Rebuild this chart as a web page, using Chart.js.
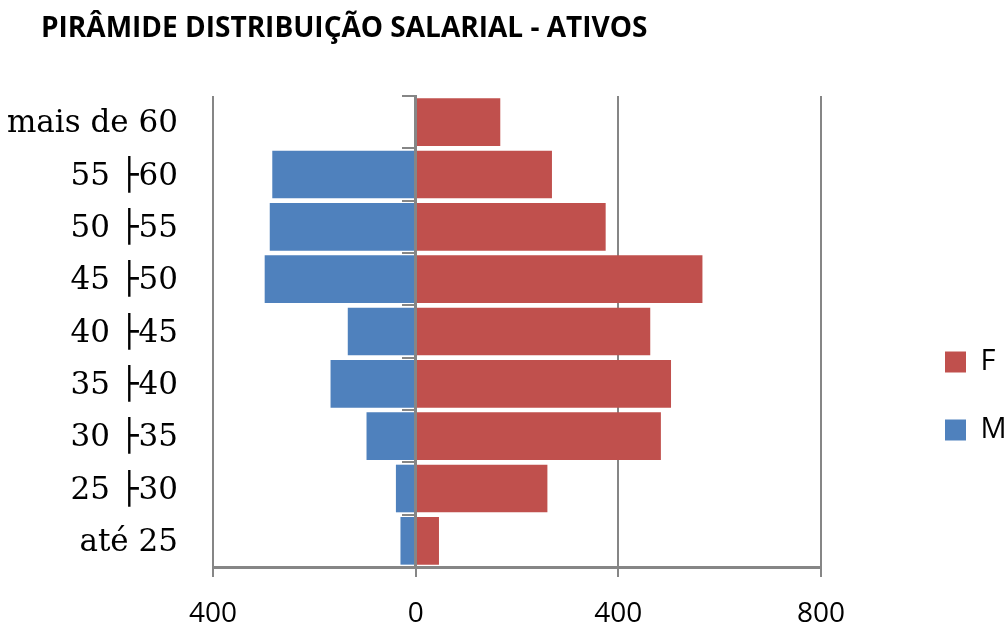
<!DOCTYPE html>
<html>
<head>
<meta charset="utf-8">
<script src="https://cdn.jsdelivr.net/npm/chart.js@4.4.1/dist/chart.umd.min.js"></script>
<style>
  html, body { margin: 0; padding: 0; background: #ffffff; }
</style>
</head>
<body>
<canvas id="pyramid" width="1006" height="626"></canvas>
<script>
// age groups, top to bottom as in the picture
const ageGroups = ['mais de 60', '55 ├60', '50 ├55', '45 ├50', '40 ├45', '35 ├40', '30 ├35', '25 ├30', 'até 25'];
const femaleCounts = [167, 269, 375, 566, 463, 504, 484, 260, 46];
// men go to the left, so they are stored negative
const maleCounts = [0, -283, -288, -298, -134, -168, -97, -39, -30];
const xTicks = [-400, 0, 400, 800];

const axisGray = '#868686';
const sansFont = "'Open Sans', 'DejaVu Sans', sans-serif";

// the title starts a bit right of the canvas edge, while the age labels need the full left margin
const titleIndent = {
    id: 'titleIndent',
    afterLayout(chart) {
        if (chart.titleBlock) chart.titleBlock.left += 41;
    }
};

const ctx = document.getElementById('pyramid').getContext('2d');

const pyramidChart = new Chart(ctx, {
    type: 'bar',
    data: {
        labels: ageGroups,
        datasets: [{
            label: 'F',
            data: femaleCounts,
            backgroundColor: '#C0504D',
            barPercentage: 0.91,
            categoryPercentage: 1.0
        }, {
            label: 'M',
            data: maleCounts,
            backgroundColor: '#4F81BD',
            barPercentage: 0.91,
            categoryPercentage: 1.0
        }]
    },
    options: {
        indexAxis: 'y',
        responsive: false,
        animation: false,
        layout: {
            padding: 0
        },
        plugins: {
            title: {
                display: true,
                text: 'PIRÂMIDE DISTRIBUIÇÃO SALARIAL - ATIVOS',
                align: 'start',
                color: '#000000',
                font: { family: sansFont, weight: 'bold', size: 28, lineHeight: 1.2 },
                padding: { top: 12, bottom: 50.4 }
            },
            legend: {
                position: 'right',
                maxWidth: 100,
                title: {
                    display: true,
                    text: '',
                    font: { size: 10, lineHeight: 1 },
                    padding: { top: 156, bottom: 0 }
                },
                labels: {
                    color: '#000000',
                    font: { family: sansFont, size: 29 },
                    boxWidth: 21,
                    boxHeight: 21,
                    padding: 39
                }
            },
            tooltip: { enabled: false }
        },
        scales: {
            x: {
                type: 'linear',
                stacked: true,
                min: xTicks[0],
                max: xTicks[xTicks.length - 1],
                ticks: {
                    stepSize: xTicks[1] - xTicks[0],
                    callback: v => Math.abs(v),
                    color: '#000000',
                    font: { family: sansFont, size: 28 },
                    padding: 20
                },
                grid: { color: axisGray, lineWidth: 2, tickLength: 10 },
                border: { display: true, color: axisGray, width: 3 },
                afterFit: s => { s.height = 59; }
            },
            y: {
                type: 'category',
                stacked: true,
                position: 'left',
                ticks: {
                    color: '#000000',
                    font: { family: "'DejaVu Serif', serif", size: 31 },
                    padding: 35,
                    labelOffset: 2
                },
                grid: { display: false, drawTicks: false },
                border: { display: false },
                afterFit: s => { s.width = 213; }
            },
            // vertical axis line at zero, with ticks between the age groups
            yZero: {
                type: 'category',
                axis: 'y',
                position: { x: 0 },
                offset: true,
                z: 1,
                ticks: { display: false },
                grid: { drawOnChartArea: false, offset: true, tickLength: 12, color: axisGray, lineWidth: 2, z: 1 },
                border: { display: true, color: axisGray, width: 3, z: 1 },
                afterFit: s => { s.width = 0; }
            },
            // empty room between the plot and the legend
            gap: {
                type: 'category',
                axis: 'y',
                position: 'right',
                ticks: { display: false },
                grid: { display: false },
                border: { display: false },
                afterFit: s => { s.width = 85; }
            }
        }
    },
    plugins: [titleIndent]
});
</script>
</body>
</html>
